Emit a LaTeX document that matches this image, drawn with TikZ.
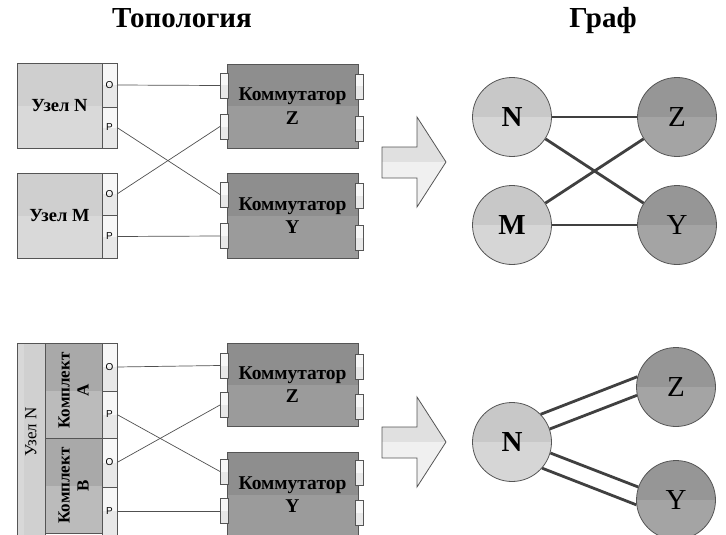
\documentclass[tikz,border=0pt]{standalone}
\usepackage{fontspec}
\setmainfont{Liberation Serif}
\newfontfamily\sansf{Liberation Sans}
\usetikzlibrary{calc}
\definecolor{bordc}{HTML}{555555}
\definecolor{linec}{HTML}{505050}
\definecolor{edgec}{HTML}{404040}
\definecolor{ntop}{HTML}{CFCFCF}
\definecolor{nbot}{HTML}{D9D9D9}
\definecolor{stop}{HTML}{8E8E8E}
\definecolor{sbot}{HTML}{9B9B9B}
\definecolor{ktop}{HTML}{A9A9A9}
\definecolor{kbot}{HTML}{BBBBBB}
\definecolor{ptop}{HTML}{F7F7F7}
\definecolor{pbot}{HTML}{E8E8E8}
\definecolor{cltop}{HTML}{C8C8C8}
\definecolor{clbot}{HTML}{D6D6D6}
\definecolor{cdtop}{HTML}{969696}
\definecolor{cdbot}{HTML}{A4A4A4}
\definecolor{atop}{HTML}{E0E0E0}
\definecolor{abot}{HTML}{F0F0F0}
\definecolor{ucol}{HTML}{D0D0D0}
\definecolor{ucolb}{HTML}{D8D8D8}
\begin{document}
\begin{tikzpicture}[x=1pt,y=-1pt,
  twotone/.style 2 args={path picture={
     \fill[#1] (path picture bounding box.north west) rectangle (path picture bounding box.east);
     \fill[#2] (path picture bounding box.west) rectangle (path picture bounding box.south east);}},
  box/.style={draw=bordc, line width=0.8pt, rectangle, inner sep=0pt, outer sep=0pt},
  hostbox/.style={box, twotone={ntop}{nbot}, minimum width=85, minimum height=85,
     font=\fontsize{18.5}{22}\selectfont\bfseries},
  portbox/.style={box, twotone={ptop}{pbot}, minimum width=15, font=\sansf\fontsize{10}{11}\selectfont},
  swbox/.style={box, twotone={stop}{sbot}, minimum width=131, align=center,
     font=\fontsize{19.5}{23.5}\selectfont\bfseries},
  swport/.style={box, twotone={ptop}{pbot}, minimum width=8, minimum height=25},
  kitbox/.style={box, twotone={ktop}{kbot}, minimum width=57, minimum height=95},
  kittext/.style={rotate=90, align=center, font=\fontsize{17}{19}\selectfont\bfseries},
  wire/.style={draw=linec, line width=0.7pt},
  gnode/.style={circle, draw=bordc, line width=0.8pt, minimum size=79, inner sep=0pt,
     font=\fontsize{29}{32}\selectfont},
  light/.style={gnode, twotone={cltop}{clbot}},
  dark/.style={gnode, twotone={cdtop}{cdbot}},
  edge/.style={draw=edgec, line width=2.8pt},
  bigarrow/.style={draw=bordc, line width=0.8pt, twotone={atop}{abot}},
  title/.style={anchor=base, font=\fontsize{29}{32}\selectfont\bfseries}
]
\useasboundingbox (0,0) rectangle (726,535);
\clip (0,0) rectangle (726,535);

% titles
\node[title] (t1) at (182,28) {Топология};
\node[title] (t2) at (603,28) {Граф};

% ===== top topology =====
\node[hostbox] (hN) at (59.5,105.5) {Узел N};
\node[portbox, minimum height=44] (hNo) at (109.5,85) {O};
\node[portbox, minimum height=41] (hNp) at (109.5,127.5) {P};
\node[hostbox] (hM) at (59.5,215.5) {Узел M};
\node[portbox, minimum height=42] (hMo) at (109.5,194) {O};
\node[portbox, minimum height=43] (hMp) at (109.5,236.5) {P};

\node[swbox, minimum height=84] (sZ) at (292.5,106) {Коммутатор\\Z};
\node[swport] (sZl1) at (224,85.5) {};
\node[swport] (sZl2) at (224,126.5) {};
\node[swport] (sZr1) at (359.5,86.5) {};
\node[swport] (sZr2) at (359.5,128.5) {};
\node[swbox, minimum height=85] (sY) at (292.5,215.5) {Коммутатор\\Y};
\node[swport] (sYl1) at (224,194.5) {};
\node[swport] (sYl2) at (224,236) {};
\node[swport] (sYr1) at (359.5,195.5) {};
\node[swport] (sYr2) at (359.5,237.5) {};

\draw[wire] (hNo.east) -- (sZl1.west);
\draw[wire] (hNp.east) -- (sYl1.west);
\draw[wire] (hMo.east) -- (sZl2.west);
\draw[wire] (hMp.east) -- (sYl2.west);

% ===== bottom topology =====
\node[box, minimum width=28, minimum height=194,
  path picture={\fill[ucol] (path picture bounding box.south west) rectangle (path picture bounding box.north east);
                \fill[ucolb] (path picture bounding box.south west) rectangle ($(path picture bounding box.north west)+(7,0)$);}]
  (uN) at (31,440) {};
\node[rotate=90, font=\fontsize{17}{19}\selectfont] (uNl) at (31,432) {Узел N};
\node[kitbox] (kA) at (73.5,390.5) {};
\node[kittext] (kAl) at (73.5,390.5) {Комплект\\A};
\node[kitbox] (kB) at (73.5,485.5) {};
\node[kittext] (kBl) at (73.5,485.5) {Комплект\\B};
\node[portbox, minimum height=48] (kAo) at (109.5,367) {O};
\node[portbox, minimum height=47] (kAp) at (109.5,414.5) {P};
\node[portbox, minimum height=49] (kBo) at (109.5,462.5) {O};
\node[portbox, minimum height=48] (kBp) at (109.5,511) {P};

\node[swbox, minimum height=83] (bZ) at (292.5,384.5) {Коммутатор\\Z};
\node[swport] (bZl1) at (224,365.5) {};
\node[swport] (bZl2) at (224,405) {};
\node[swport] (bZr1) at (359.5,366.5) {};
\node[swport] (bZr2) at (359.5,407) {};
\node[swbox, minimum height=85] (bY) at (292.5,494.5) {Коммутатор\\Y};
\node[swport] (bYl1) at (224,471.5) {};
\node[swport] (bYl2) at (224,511) {};
\node[swport] (bYr1) at (359.5,472.5) {};
\node[swport] (bYr2) at (359.5,512.5) {};

\draw[wire] (kAo.east) -- (bZl1.west);
\draw[wire] (kAp.east) -- (bYl1.west);
\draw[wire] (kBo.east) -- (bZl2.west);
\draw[wire] (kBp.east) -- (bYl2.west);

% ===== arrows =====
\path[bigarrow] (382,147) -- (417,147) -- (417,117) -- (446,162) -- (417,207) -- (417,178) -- (382,178) -- cycle;
\path[bigarrow] (382,427) -- (417,427) -- (417,397) -- (446,442) -- (417,487) -- (417,458) -- (382,458) -- cycle;

% ===== top graph =====
\node[light] (gN) at (512,117) {\bfseries N};
\node[dark]  (gZ) at (677,117) {Z};
\node[light] (gM) at (512,225) {\bfseries M};
\node[dark]  (gY) at (677,225) {Y};
\draw[edge] (gN) -- (gZ);
\draw[edge] (gN) -- (gY);
\draw[edge] (gM) -- (gZ);
\draw[edge] (gM) -- (gY);

% ===== bottom graph =====
\node[light] (bN) at (512,442) {\bfseries N};
\node[dark]  (bgZ) at (676,387) {Z};
\node[dark]  (bgY) at (676,500) {Y};
\draw[edge] (bN.44) -- (bgZ.165);
\draw[edge] (bN.19) -- (bgZ.192);
\draw[edge] (bN.-16) -- (bgY.161);
\draw[edge] (bN.-41) -- (bgY.187);
\end{tikzpicture}
\end{document}
